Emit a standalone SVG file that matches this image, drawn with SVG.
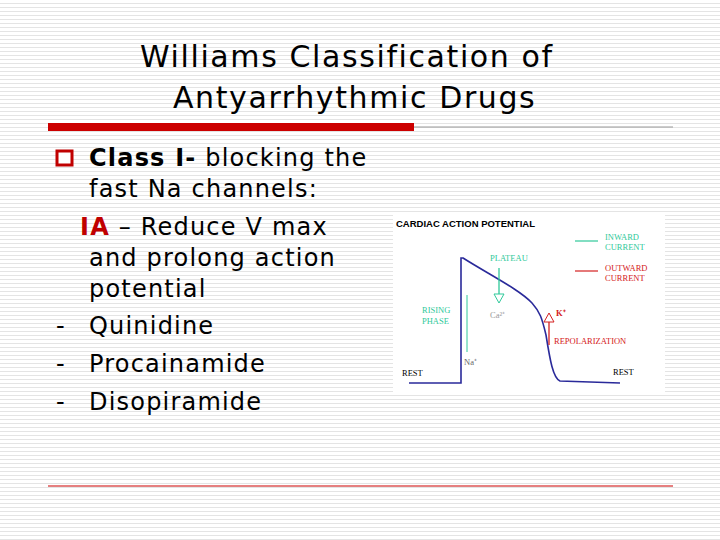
<svg xmlns="http://www.w3.org/2000/svg" width="720" height="540" viewBox="0 0 720 540">
<defs>
<pattern id="bg" width="4" height="4" patternUnits="userSpaceOnUse"><rect width="4" height="4" fill="#fff"/><rect y="3" width="4" height="1" fill="#e4e4e4"/></pattern>
<style>
.t{font-family:"DejaVu Sans",sans-serif;fill:#000}
.s{font-family:"Liberation Serif",serif;font-size:8.5px}
.g{fill:#2fc99a}.r{fill:#d42020}
</style>
</defs>
<rect width="720" height="540" fill="url(#bg)"/>
<g id="title" class="t" font-size="30" letter-spacing="1.6">
<text x="140" y="67">Williams Classification of</text>
<text x="173" y="108">Antyarrhythmic Drugs</text>
</g>
<g id="rules">
<line x1="48" y1="127" x2="673" y2="127" stroke="#999" stroke-width="1"/>
<rect x="48" y="123" width="366" height="8" fill="#cc0000"/>
<line x1="48" y1="486" x2="673" y2="486" stroke="#cc0000" stroke-width="1"/>
</g>
<g id="text" class="t" font-size="24" letter-spacing="1.2">
<rect x="57" y="151" width="15" height="14" fill="#fff" stroke="#c00000" stroke-width="3"/>
<text x="89" y="166"><tspan font-weight="bold">Class I-</tspan> blocking the</text>
<text x="89" y="197">fast Na channels:</text>
<text x="80" y="235"><tspan font-weight="bold" fill="#c00000">IA</tspan> – Reduce V max</text>
<text x="89" y="266">and prolong action</text>
<text x="89" y="297">potential</text>
<text x="56" y="334">-</text><text x="89" y="334">Quinidine</text>
<text x="56" y="372">-</text><text x="89" y="372">Procainamide</text>
<text x="56" y="410">-</text><text x="89" y="410">Disopiramide</text>
</g>
<g id="chart">
<rect x="393" y="214" width="272" height="180" fill="#fff"/>
<text x="396" y="227" font-family="Liberation Sans,sans-serif" font-size="9.5" font-weight="bold">CARDIAC ACTION POTENTIAL</text>
<line x1="575" y1="241" x2="598" y2="241" stroke="#2fc99a" stroke-width="1.2"/>
<text class="s g" x="605" y="240">INWARD</text><text class="s g" x="605" y="250">CURRENT</text>
<line x1="575" y1="271" x2="598" y2="271" stroke="#d42020" stroke-width="1.2"/>
<text class="s r" x="605" y="271">OUTWARD</text><text class="s r" x="605" y="281">CURRENT</text>
<path d="M409 383 H461 V258 L463 258 C490 275 520 290 532 303 C540 312 542 318 546 335 C550 360 553 378 560 381 L620 383" fill="none" stroke="#2a2a9a" stroke-width="1.6"/>
<text class="s g" x="490" y="261">PLATEAU</text>
<line x1="499" y1="268" x2="499" y2="295" stroke="#2fc99a" stroke-width="1.3"/>
<path d="M494 294 L504 294 L499 303 Z" fill="#fff" stroke="#2fc99a"/>
<text class="s" x="490" y="318" fill="#999">Ca²⁺</text>
<text class="s g" x="422" y="313">RISING</text><text class="s g" x="422" y="324">PHASE</text>
<line x1="467" y1="295" x2="467" y2="352" stroke="#2fc99a" stroke-width="1"/>
<text class="s" x="464" y="365" fill="#666">Na⁺</text>
<line x1="549" y1="322" x2="549" y2="345" stroke="#d42020" stroke-width="1.3"/>
<path d="M544 322 L554 322 L549 313 Z" fill="#fff" stroke="#d42020"/>
<text class="s r" x="556" y="316" font-weight="bold">K⁺</text>
<text class="s r" x="554" y="344">REPOLARIZATION</text>
<text class="s" x="402" y="376">REST</text>
<text class="s" x="613" y="375">REST</text>
</g>
</svg>
